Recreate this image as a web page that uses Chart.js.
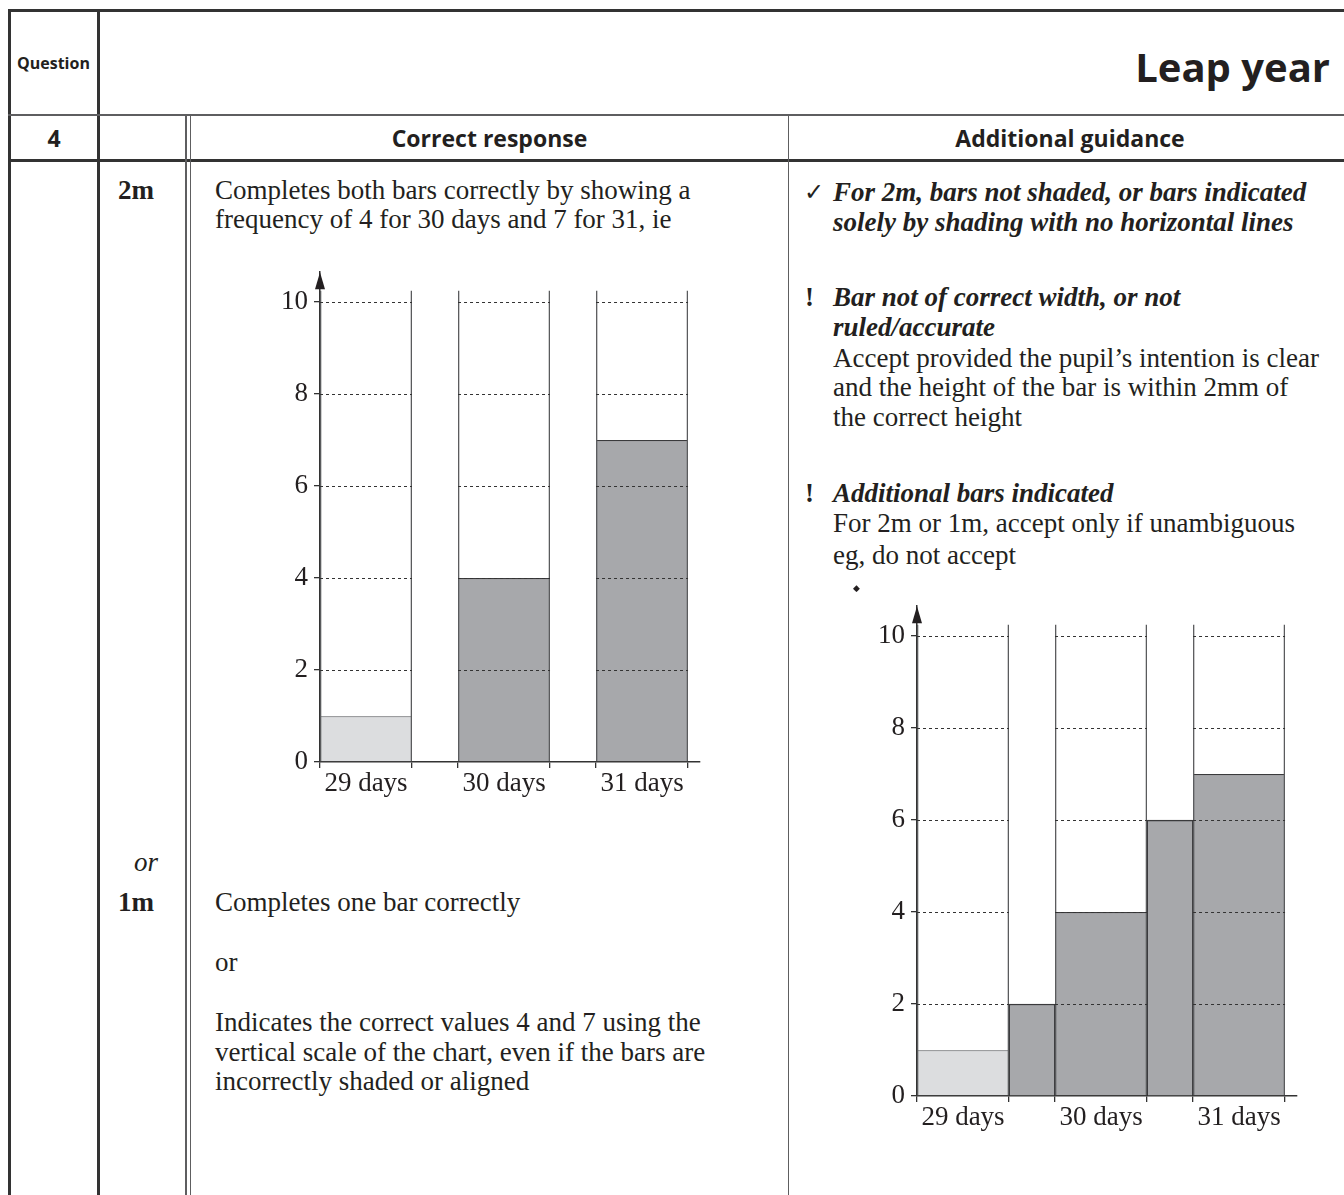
<!DOCTYPE html>
<html>
<head>
<meta charset="utf-8">
<title>Leap year</title>
<script src="https://cdn.jsdelivr.net/npm/chart.js@4.4.1/dist/chart.umd.min.js"></script>
<style>
    html, body { margin: 0; padding: 0; background: #fff; }
    #page { position: relative; width: 1344px; height: 1195px; overflow: hidden; color: #231f20; }
    .rule { position: absolute; background: #333; }
    .grey { background: #5e5e60; }
    .t {
        position: absolute; white-space: nowrap; line-height: 30px;
        font-family: "Liberation Serif", "Times New Roman", serif; font-size: 27px;
    }
    .sans { font-family: "Open Sans", "Noto Sans", sans-serif; font-weight: 700; }
    .it { font-style: italic; }
    .bi { font-style: italic; font-weight: 700; }
    .b { font-weight: 700; }
    canvas { position: absolute; }
</style>
</head>
<body>
<div id="page">
    <!-- table rules -->
    <div class="rule" style="left:8px; top:9px; width:1336px; height:2.5px;"></div>
    <div class="rule" style="left:8px; top:9px; width:2.5px; height:1186px;"></div>
    <div class="rule" style="left:97px; top:9px; width:2.5px; height:1186px;"></div>
    <div class="rule grey" style="left:8px; top:114px; width:1336px; height:1.5px;"></div>
    <div class="rule" style="left:8px; top:159px; width:1336px; height:2.5px;"></div>
    <div class="rule grey" style="left:185px; top:115px; width:1.5px; height:1080px;"></div>
    <div class="rule grey" style="left:189.5px; top:115px; width:1.5px; height:1080px;"></div>
    <div class="rule grey" style="left:787.5px; top:115px; width:1.5px; height:1080px;"></div>

    <!-- header -->
    <div class="t sans" style="left:17px; top:48px; font-size:16px;">Question</div>
    <div class="t sans" style="right:14px; top:46px; font-size:40px; line-height:42px;">Leap year</div>
    <div class="t sans" style="left:10px; width:88px; text-align:center; top:123px; font-size:23px;">4</div>
    <div class="t sans" style="left:191px; width:597px; text-align:center; top:123px; font-size:23px;">Correct response</div>
    <div class="t sans" style="left:789px; width:562px; text-align:center; top:123px; font-size:23px;">Additional guidance</div>

    <!-- marks column -->
    <div class="t b" style="left:118px; top:175px;">2m</div>
    <div class="t it" style="left:134px; top:847px;">or</div>
    <div class="t b" style="left:118px; top:887px;">1m</div>

    <!-- correct response column -->
    <div class="t" style="left:215px; top:175px;">Completes both bars correctly by showing a</div>
    <div class="t" style="left:215px; top:204px;">frequency of 4 for 30 days and 7 for 31, ie</div>
    <div class="t" style="left:215px; top:887px;">Completes one bar correctly</div>
    <div class="t" style="left:215px; top:947px;">or</div>
    <div class="t" style="left:215px; top:1007px;">Indicates the correct values 4 and 7 using the</div>
    <div class="t" style="left:215px; top:1037px;">vertical scale of the chart, even if the bars are</div>
    <div class="t" style="left:215px; top:1066px;">incorrectly shaded or aligned</div>

    <!-- additional guidance column -->
    <div class="t" style="left:804px; top:177px; font-family:'DejaVu Sans'; font-size:24px;">✓</div>
    <div class="t bi" style="left:833px; top:177px;">For 2m, bars not shaded, or bars indicated</div>
    <div class="t bi" style="left:833px; top:207px;">solely by shading with no horizontal lines</div>
    <div class="t b" style="left:805px; top:282px;">!</div>
    <div class="t bi" style="left:833px; top:282px;">Bar not of correct width, or not</div>
    <div class="t bi" style="left:833px; top:312px;">ruled/accurate</div>
    <div class="t" style="left:833px; top:343px;">Accept provided the pupil’s intention is clear</div>
    <div class="t" style="left:833px; top:372px;">and the height of the bar is within 2mm of</div>
    <div class="t" style="left:833px; top:402px;">the correct height</div>
    <div class="t b" style="left:805px; top:478px;">!</div>
    <div class="t bi" style="left:833px; top:478px;">Additional bars indicated</div>
    <div class="t" style="left:833px; top:508px;">For 2m or 1m, accept only if unambiguous</div>
    <div class="t" style="left:833px; top:540px;">eg, do not accept</div>

    <canvas id="correct-chart" width="460" height="556" style="left:250px; top:250px; width:460px; height:556px;"></canvas>
    <canvas id="example-chart" width="460" height="556" style="left:847px; top:584px; width:460px; height:556px;"></canvas>
    <div class="t" style="left:853px; top:573px; font-family:'DejaVu Sans'; font-size:9px;">◆</div>
</div>

<script>
const categories = ['29 days', '30 days', '31 days'];
const correctFrequencies = [1, 4, 7];
const exampleFrequencies = [1, 4, 7];
const exampleExtraFrequencies = [2, 6]; // extra bars drawn in the gaps
const yTickValues = [0, 2, 4, 6, 8, 10];

const barFills = ['#dcdddf', '#a7a8ab', '#a7a8ab'];
const barEdges = ['#9c9d9f', '#3a3a3c', '#3a3a3c'];

// each category slot is 3 units wide: a 2-unit bar and a 1-unit gap
const SLOT = 3;
const BAR = 2;
const FRAME_TOP = 10.25;
const Y_MAX = 10.65;
const X_MAX = 8.26;
const slotStart = (i) => i * SLOT;
const slotCenter = (i) => i * SLOT + BAR / 2;
const gapCenter = (i) => i * SLOT + BAR + (SLOT - BAR) / 2;
const centers = categories.map((c, i) => slotCenter(i));
const xTickValues = categories.flatMap((c, i) => [slotStart(i), slotCenter(i), slotStart(i) + BAR]);

const tickFont = { family: "'Liberation Serif', 'Times New Roman', serif", size: 27 };

// dashed guide lines, only inside the bar slots, on top of the bars
const slotGridPlugin = {
    id: 'slotGrid',
    afterDatasetsDraw(chart) {
        const { ctx, scales: { x, y } } = chart;
        ctx.save();
        ctx.setLineDash([3, 3]);
        ctx.strokeStyle = '#333';
        ctx.lineWidth = 1;
        yTickValues.filter((v) => v > 0).forEach((v) => {
            const py = Math.round(y.getPixelForValue(v)) + 0.5;
            categories.forEach((c, i) => {
                ctx.beginPath();
                ctx.moveTo(x.getPixelForValue(slotStart(i)), py);
                ctx.lineTo(x.getPixelForValue(slotStart(i) + BAR), py);
                ctx.stroke();
            });
        });
        ctx.restore();
    },
};

// arrow head on top of the vertical axis
const arrowPlugin = {
    id: 'axisArrow',
    afterDraw(chart) {
        const { ctx, chartArea: { left, top } } = chart;
        ctx.save();
        ctx.fillStyle = '#231f20';
        ctx.beginPath();
        ctx.moveTo(left, top);
        ctx.lineTo(left - 5, top + 17);
        ctx.lineTo(left + 5, top + 17);
        ctx.closePath();
        ctx.fill();
        ctx.restore();
    },
};

function makeChart(canvasId, mainValues, extraValues) {
    const datasets = [
        {
            // frame lines of each slot
            data: categories.map((c, i) => ({ x: slotCenter(i), y: FRAME_TOP })),
            backgroundColor: 'rgba(0,0,0,0)',
            borderColor: '#5a5b5d',
            borderWidth: { left: 1.3, right: 1.3, top: 0, bottom: 0 },
            borderSkipped: false,
            barPercentage: BAR,
            categoryPercentage: 1,
            grouped: false,
            order: 0,
        },
        {
            data: mainValues.map((v, i) => ({ x: slotCenter(i), y: v })),
            backgroundColor: barFills,
            borderColor: barEdges,
            borderWidth: { top: 1.5, left: 0, right: 0, bottom: 0 },
            borderSkipped: false,
            barPercentage: BAR,
            categoryPercentage: 1,
            grouped: false,
            order: 1,
        },
    ];
    if (extraValues) {
        datasets.push({
            data: extraValues.map((v, i) => ({ x: gapCenter(i), y: v })),
            backgroundColor: '#a7a8ab',
            borderColor: '#3a3a3c',
            borderWidth: { top: 1.5, left: 1.3, right: 1.3, bottom: 0 },
            borderSkipped: false,
            barPercentage: SLOT - BAR,
            categoryPercentage: 1,
            grouped: false,
            order: 1,
        });
    }

    return new Chart(document.getElementById(canvasId), {
        type: 'bar',
        data: { datasets },
        options: {
            responsive: false,
            animation: false,
            events: [],
            layout: { padding: { left: 0, top: 22, right: 10, bottom: 0 } },
            plugins: { legend: { display: false }, tooltip: { enabled: false } },
            scales: {
                x: {
                    type: 'linear',
                    min: 0,
                    max: X_MAX,
                    offset: false,
                    afterBuildTicks: (s) => { s.ticks = xTickValues.map((v) => ({ value: v })); },
                    afterFit: (s) => { s.height = 44; },
                    grid: {
                        offset: false,
                        drawOnChartArea: false,
                        tickLength: 6,
                        lineWidth: 1.3,
                        tickColor: (ctx) => (centers.includes(ctx.tick.value) ? 'rgba(0,0,0,0)' : '#333'),
                    },
                    border: { color: '#333', width: 1.5 },
                    ticks: {
                        autoSkip: false,
                        maxRotation: 0,
                        padding: 0,
                        color: '#231f20',
                        font: tickFont,
                        callback: (v) => {
                            const i = centers.indexOf(v);
                            return i >= 0 ? categories[i] : '';
                        },
                    },
                },
                y: {
                    min: 0,
                    max: Y_MAX,
                    afterBuildTicks: (s) => { s.ticks = yTickValues.map((v) => ({ value: v })); },
                    afterFit: (s) => { s.width = 70; },
                    grid: { drawOnChartArea: false, tickLength: 6, lineWidth: 1.3, tickColor: '#333' },
                    border: { color: '#333', width: 1.5 },
                    ticks: { padding: 6, color: '#231f20', font: tickFont },
                },
            },
        },
        plugins: [slotGridPlugin, arrowPlugin],
    });
}

makeChart('correct-chart', correctFrequencies);
makeChart('example-chart', exampleFrequencies, exampleExtraFrequencies);
</script>
</body>
</html>
